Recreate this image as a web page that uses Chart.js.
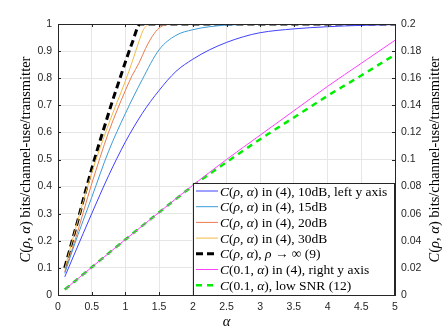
<!DOCTYPE html>
<html>
<head>
<meta charset="utf-8">
<script src="https://cdn.jsdelivr.net/npm/chart.js@4.4.0/dist/chart.umd.min.js"></script>
<style>
  html, body { margin: 0; padding: 0; background: #fff; }
</style>
</head>
<body>
<canvas id="myChart" width="443" height="332"></canvas>
<script>
// curves (left y axis)
const alpha10 = [0.1, 0.25, 0.5, 0.75, 1, 1.25, 1.5, 1.75, 2, 2.25, 2.5, 2.75, 3, 3.5, 4, 4.5, 5];
const c10 = [0.067, 0.155, 0.3, 0.44, 0.565, 0.67, 0.755, 0.825, 0.87, 0.905, 0.932, 0.953, 0.968, 0.982, 0.99, 0.995, 0.998];

const alpha15 = [0.1, 0.25, 0.5, 0.75, 1, 1.25, 1.5, 1.75, 2, 2.25, 2.5, 3, 3.5, 4, 4.5, 5];
const c15 = [0.08, 0.19, 0.36, 0.53, 0.67, 0.795, 0.905, 0.958, 0.979, 0.99, 0.996, 0.999, 1, 1, 1, 1];

const alpha20 = [0.1, 0.25, 0.5, 0.75, 1, 1.1, 1.2, 1.3, 1.4, 1.5, 1.6, 1.8, 2, 3, 4, 5];
const c20 = [0.085, 0.2, 0.41, 0.6, 0.755, 0.81, 0.855, 0.91, 0.955, 0.985, 0.997, 1, 1, 1, 1, 1];

const alpha30 = [0.1, 0.25, 0.5, 0.75, 1, 1.1, 1.2, 1.26, 1.3, 1.36, 1.5, 2, 3, 4, 5];
const c30 = [0.095, 0.235, 0.45, 0.63, 0.79, 0.86, 0.935, 0.975, 0.99, 1, 1, 1, 1, 1, 1];

const alphaInf = [0.1, 0.2, 0.3, 0.4, 0.5, 0.6, 0.7, 0.8, 0.9, 1, 1.1, 1.22, 1.5, 2, 3, 4, 5];
const cInf = [0.1, 0.19, 0.28, 0.375, 0.465, 0.55, 0.63, 0.71, 0.785, 0.86, 0.93, 1, 1, 1, 1, 1, 1];

// right y axis curves
const alphaLow = [0.1, 0.5, 1, 1.5, 2, 2.5, 3, 3.5, 4, 4.5, 5];
const cLow = [0.004, 0.0205, 0.041, 0.061, 0.081, 0.1, 0.118, 0.136, 0.154, 0.171, 0.188];
const cLowApprox = [0.004, 0.0205, 0.041, 0.061, 0.0805, 0.098, 0.115, 0.131, 0.147, 0.162, 0.1774];

const labels = [
  "C(ρ, α) in (4), 10dB, left y axis",
  "C(ρ, α) in (4), 15dB",
  "C(ρ, α) in (4), 20dB",
  "C(ρ, α) in (4), 30dB",
  "C(ρ, α), ρ → ∞ (9)",
  "C(0.1, α) in (4), right y axis",
  "C(0.1, α), low SNR (12)"
];
const yTitle = "C(ρ, α) bits/channel-use/transmitter";

function pts(xs, ys) {
  let out = [];
  for (let i = 0; i < xs.length; i++) out.push({ x: xs[i], y: ys[i] });
  return out;
}

function line(label, xs, ys, color, width, dash, axis) {
  return {
    label: label,
    data: pts(xs, ys),
    borderColor: color,
    backgroundColor: color,
    borderWidth: width,
    borderDash: dash,
    yAxisID: axis,
    pointRadius: 0,
    cubicInterpolationMode: "monotone",
    fill: false
  };
}

// draw text where C, ρ and α are italic
function setFont(ctx, ch, size) {
  const it = (ch == "C" || ch == "ρ" || ch == "α");
  ctx.font = (it ? "italic " : "") + size + "px 'Liberation Serif', serif";
}
function mathText(ctx, text, x, y, size) {
  let cx = x;
  for (const ch of text) {
    setFont(ctx, ch, size);
    ctx.fillText(ch, cx, y);
    cx += ctx.measureText(ch).width;
  }
  return cx - x;
}
function mathWidth(ctx, text, size) {
  let w = 0;
  for (const ch of text) {
    setFont(ctx, ch, size);
    w += ctx.measureText(ch).width;
  }
  return w;
}

const extras = {
  id: "extras",
  afterDraw(chart) {
    const ctx = chart.ctx;
    const a = chart.chartArea;
    const sx = chart.scales.x, sy = chart.scales.y;
    ctx.save();
    // inward ticks and box
    ctx.strokeStyle = "#262626";
    ctx.lineWidth = 1;
    ctx.beginPath();
    sx.ticks.forEach(t => {
      const px = Math.round(sx.getPixelForValue(t.value)) + 0.5;
      ctx.moveTo(px, a.bottom); ctx.lineTo(px, a.bottom - 3);
      ctx.moveTo(px, a.top); ctx.lineTo(px, a.top + 3);
    });
    sy.ticks.forEach(t => {
      const py = Math.round(sy.getPixelForValue(t.value)) + 0.5;
      ctx.moveTo(a.left, py); ctx.lineTo(a.left + 3, py);
      ctx.moveTo(a.right, py); ctx.lineTo(a.right - 3, py);
    });
    ctx.stroke();
    ctx.strokeRect(Math.round(a.left) + 0.5, Math.round(a.top) + 0.5, Math.round(a.right - a.left), Math.round(a.bottom - a.top));

    // legend
    const lx = 193, ly = 183, lw = 201, lh = 112;
    ctx.fillStyle = "#fff";
    ctx.fillRect(lx, ly, lw, lh);
    ctx.strokeStyle = "#262626";
    ctx.strokeRect(lx + 0.5, ly + 0.5, lw, lh);
    ctx.textBaseline = "middle";
    chart.data.datasets.forEach((ds, i) => {
      const yy = 191 + i * 15.7;
      ctx.beginPath();
      ctx.strokeStyle = ds.borderColor;
      ctx.lineWidth = ds.borderWidth;
      ctx.setLineDash(ds.borderDash || []);
      ctx.moveTo(196, yy);
      ctx.lineTo(218, yy);
      ctx.stroke();
      ctx.setLineDash([]);
      ctx.fillStyle = "#000";
      mathText(ctx, ds.label, 220, yy + 1, 13.5);
    });

    // axis titles
    ctx.fillStyle = "#000";
    ctx.textBaseline = "middle";
    const tw = mathWidth(ctx, yTitle, 14.5);
    ctx.save();
    ctx.translate(26, (a.top + a.bottom) / 2);
    ctx.rotate(-Math.PI / 2);
    mathText(ctx, yTitle, -tw / 2, 0, 14.5);
    ctx.restore();
    ctx.save();
    ctx.translate(435, (a.top + a.bottom) / 2);
    ctx.rotate(-Math.PI / 2);
    mathText(ctx, yTitle, -tw / 2, 0, 14.5);
    ctx.restore();
    const aw = mathWidth(ctx, "α", 14.5);
    mathText(ctx, "α", (a.left + a.right) / 2 - aw / 2, 322, 14.5);
    ctx.restore();
  }
};

const tickFont = { family: "'Liberation Sans', Arial, sans-serif", size: 10.5 };
const fmt = v => String(+Number(v).toFixed(3));

const ctx = document.getElementById("myChart").getContext("2d");
const myChart = new Chart(ctx, {
  type: "line",
  data: {
    datasets: [
      line(labels[0], alpha10, c10, "#4040ff", 1, [], "y"),
      line(labels[1], alpha15, c15, "#3c9ad8", 1, [], "y"),
      line(labels[2], alpha20, c20, "#ec7a4f", 1, [], "y"),
      line(labels[3], alpha30, c30, "#f0bb45", 1, [], "y"),
      line(labels[4], alphaInf, cInf, "#000000", 3, [7, 4], "y"),
      line(labels[5], alphaLow, cLow, "#ff40ff", 1, [], "y1"),
      line(labels[6], alphaLow, cLowApprox, "#00ee00", 2.5, [6, 5], "y1")
    ]
  },
  options: {
    responsive: false,
    animation: false,
    devicePixelRatio: 1,
    layout: { padding: { top: 24, left: 0, right: 0, bottom: 0 } },
    plugins: {
      legend: { display: false },
      tooltip: { enabled: false }
    },
    scales: {
      x: {
        type: "linear",
        min: 0,
        max: 5,
        afterFit: s => { s.height = 37; },
        ticks: { stepSize: 0.5, font: tickFont, color: "#262626", padding: 6, maxRotation: 0, callback: fmt },
        grid: { color: "#e6e6e6", drawTicks: false },
        border: { color: "#262626" }
      },
      y: {
        min: 0,
        max: 1,
        afterFit: s => { s.width = 58; },
        ticks: { stepSize: 0.1, font: tickFont, color: "#262626", padding: 6, callback: fmt },
        grid: { color: "#e6e6e6", drawTicks: false },
        border: { color: "#262626" }
      },
      y1: {
        position: "right",
        min: 0,
        max: 0.2,
        afterFit: s => { s.width = 48; },
        ticks: { stepSize: 0.02, font: tickFont, color: "#262626", padding: 6, callback: fmt },
        grid: { drawOnChartArea: false, drawTicks: false },
        border: { color: "#262626" }
      }
    }
  },
  plugins: [extras]
});
</script>
</body>
</html>
